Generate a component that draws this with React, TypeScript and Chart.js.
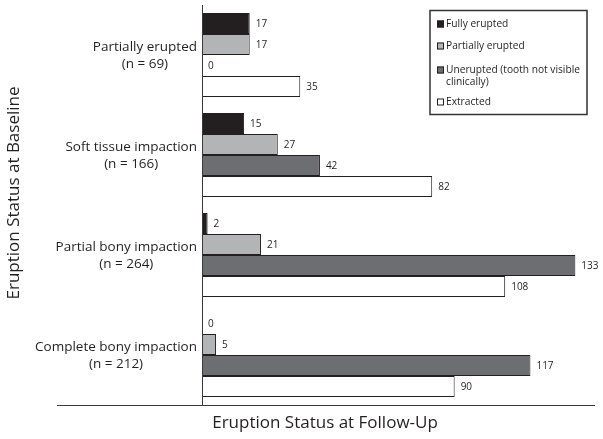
import React, { useEffect, useRef } from "react";
import { Chart, registerables } from "chart.js";

Chart.register(...registerables);

const categories = ["Partially erupted", "Soft tissue impaction", "Partial bony impaction", "Complete bony impaction"];
const categoryCounts = ["(n = 69)", "(n = 166)", "(n = 264)", "(n = 212)"];
const seriesNames = ["Fully erupted", "Partially erupted", "Unerupted (tooth not visible clinically)", "Extracted"];
const legendLines = [["Fully erupted"], ["Partially erupted"], ["Unerupted (tooth not visible", "clinically)"], ["Extracted"]];
const fullyErupted = [17, 15, 2, 0];
const partiallyErupted = [17, 27, 21, 5];
const unerupted = [0, 42, 133, 117];
const extracted = [35, 82, 108, 90];
const seriesColors = ["#231f20", "#b3b4b6", "#6d6e71", "#ffffff"];
const yTitle = "Eruption Status at Baseline";
const xTitle = "Eruption Status at Follow-Up";

const FONT = "'Open Sans', sans-serif";
const INK = "#231f20";

const customDraw = {
  id: "customDraw",
  afterDatasetsDraw(chart: any) {
    const ctx = chart.ctx;
    const area = chart.chartArea;
    const yScale = chart.scales.y;
    ctx.save();
    // value labels
    ctx.fillStyle = INK;
    ctx.font = `10px ${FONT}`;
    ctx.textAlign = "left";
    ctx.textBaseline = "middle";
    chart.data.datasets.forEach((ds: any, di: number) => {
      const meta = chart.getDatasetMeta(di);
      meta.data.forEach((bar: any, i: number) => {
        ctx.fillText(String(ds.data[i]), bar.x + 6, bar.y + 0.5);
      });
    });
    // axis lines
    ctx.strokeStyle = "#3a3a3a";
    ctx.lineWidth = 1;
    ctx.beginPath();
    ctx.moveTo(Math.round(area.left) + 0.5, area.top);
    ctx.lineTo(Math.round(area.left) + 0.5, area.bottom);
    ctx.moveTo(57, Math.round(area.bottom) + 0.5);
    ctx.lineTo(area.right, Math.round(area.bottom) + 0.5);
    ctx.stroke();
    // category labels
    ctx.font = `13.5px ${FONT}`;
    ctx.textAlign = "center";
    categories.forEach((c, i) => {
      const yc = yScale.getPixelForValue(i);
      const w = Math.max(ctx.measureText(c).width, ctx.measureText(categoryCounts[i]).width);
      const cx = area.left - 5 - w / 2;
      ctx.fillText(c, cx, yc - 8);
      ctx.fillText(categoryCounts[i], cx, yc + 9);
    });
    // titles
    ctx.font = `17px ${FONT}`;
    ctx.fillText(xTitle, 325, 423);
    ctx.save();
    ctx.translate(14, 193);
    ctx.rotate(-Math.PI / 2);
    ctx.fillText(yTitle, 0, 0);
    ctx.restore();
    // legend
    ctx.strokeStyle = "#333";
    ctx.lineWidth = 1.5;
    ctx.strokeRect(430, 10.5, 157, 104);
    ctx.font = `10.2px ${FONT}`;
    ctx.textAlign = "left";
    const itemY = [24, 46, 70, 102];
    legendLines.forEach((lines, i) => {
      const y = itemY[i];
      ctx.fillStyle = seriesColors[i];
      ctx.fillRect(437, y - 3.5, 7, 7);
      ctx.strokeStyle = INK;
      ctx.lineWidth = 1;
      ctx.strokeRect(437.5, y - 3, 6, 6);
      ctx.fillStyle = INK;
      lines.forEach((t, k) => ctx.fillText(t, 446, y + k * 12.5));
    });
    ctx.restore();
  },
};

export default function App() {
  const ref = useRef<HTMLCanvasElement>(null);
  useEffect(() => {
    document.body.style.margin = "0";
    const datasets = [fullyErupted, partiallyErupted, unerupted, extracted].map((d, i) => ({
      label: seriesNames[i],
      data: d,
      backgroundColor: seriesColors[i],
      borderColor: INK,
      borderWidth: 1,
      borderSkipped: false,
      categoryPercentage: 0.84,
      barPercentage: 1.0,
    }));
    const chart = new Chart(ref.current!, {
      type: "bar",
      data: { labels: categories, datasets },
      options: {
        indexAxis: "y",
        responsive: false,
        animation: false,
        devicePixelRatio: 1,
        layout: { padding: { left: 202, right: 8, top: 5, bottom: 34 } },
        scales: {
          x: { min: 0, max: 140, display: false },
          y: { display: false },
        },
        plugins: { legend: { display: false }, tooltip: { enabled: false } },
      },
      plugins: [customDraw],
    } as any);
    return () => chart.destroy();
  }, []);
  return <canvas ref={ref} width={603} height={439} style={{ display: "block" }} />;
}
